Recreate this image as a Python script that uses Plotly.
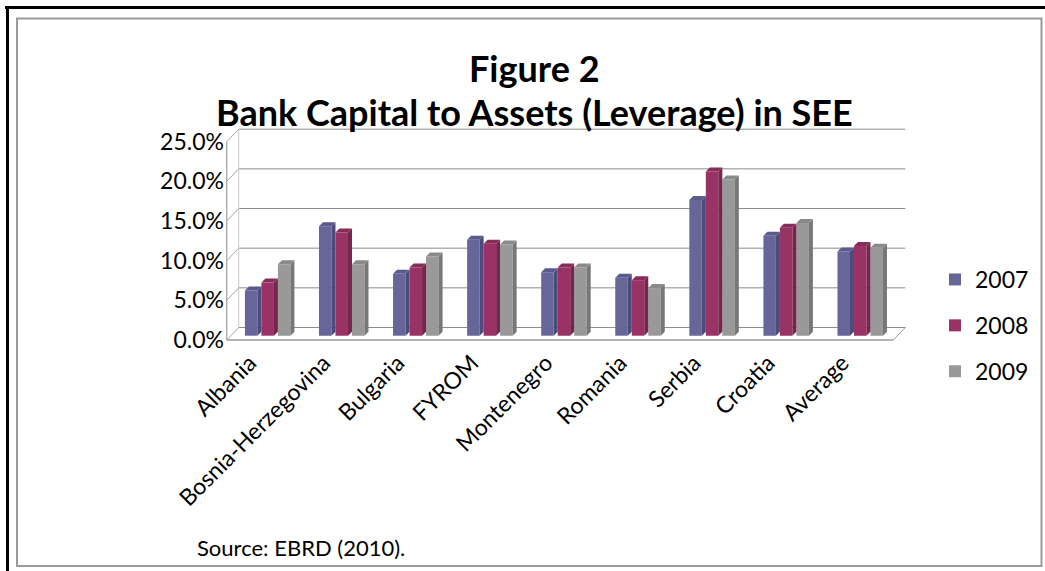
import plotly.graph_objects as go

categories = ["Albania", "Bosnia-Herzegovina", "Bulgaria", "FYROM", "Montenegro",
              "Romania", "Serbia", "Croatia", "Average"]
series_names = ["2007", "2008", "2009"]
v2007 = [5.7, 13.8, 7.8, 12.1, 8.0, 7.3, 17.1, 12.6, 10.6]
v2008 = [6.7, 13.0, 8.6, 11.6, 8.6, 7.0, 20.7, 13.6, 11.3]
v2009 = [9.0, 9.0, 10.0, 11.5, 8.6, 6.0, 19.7, 14.2, 11.1]
y_ticks = [0, 0.05, 0.10, 0.15, 0.20, 0.25]

front_colors = ["#666699", "#993366", "#999999"]
side_colors = ["#4c4c7a", "#74264d", "#777777"]
top_colors = ["#5a5a8c", "#862d59", "#8a8a8a"]

W, H = 1045, 571
FONT = "Lato, 'Open Sans', sans-serif"

# pixel geometry of the pseudo-3D plot box
X0PX, PXU = 226.7, 74.07     # pixel of x=0 (front), px per category
Y0PX, PYU = 340.0, 793.2     # pixel of y=0 (front), px per unit (1.0 = 100%)
L_PX, R_PX, T_PX, B_PX = 225, 908, 127, 341
xr = [(L_PX - X0PX) / PXU, (R_PX - X0PX) / PXU]
yr = [(Y0PX - B_PX) / PYU, (Y0PX - T_PX) / PYU]

DX, DY = 12 / PXU, 12.5 / PYU          # wall depth
bw = 12.5 / PXU                         # bar front width
sdx, sdy = 4 / PXU, 4 / PYU             # bar side/top depth
pitch = 16.5 / PXU
base = 4.3 / PYU
group_w = 2 * pitch + bw + sdx

fig = go.Figure()

values = [v2007, v2008, v2009]
for k, (name, vals) in enumerate(zip(series_names, values)):
    xs = []
    for i in range(len(categories)):
        c = i + 0.58
        left = c - group_w / 2 + k * pitch
        xs.append(left + bw / 2)
    ys = [v / 100 for v in vals]
    fig.add_trace(go.Bar(
        x=xs, y=ys, base=base, width=bw, name=name,
        marker=dict(color=front_colors[k], line=dict(width=0)),
        legendgroup=name, hoverinfo="skip"))
    sx, sy, tx, ty = [], [], [], []
    for x, v in zip(xs, ys):
        x0 = x - bw / 2
        x1 = x + bw / 2
        y0 = base
        y1 = base + v
        sx += [x1, x1 + sdx, x1 + sdx, x1, x1, None]
        sy += [y0, y0 + sdy, y1 + sdy, y1, y0, None]
        tx += [x0, x1, x1 + sdx, x0 + sdx, x0, None]
        ty += [y1, y1, y1 + sdy, y1 + sdy, y1, None]
    fig.add_trace(go.Scatter(x=sx, y=sy, fill="toself", mode="lines",
                             line=dict(width=0), fillcolor=side_colors[k],
                             showlegend=False, hoverinfo="skip"))
    fig.add_trace(go.Scatter(x=tx, y=ty, fill="toself", mode="lines",
                             line=dict(width=0), fillcolor=top_colors[k],
                             showlegend=False, hoverinfo="skip"))

grid_col = "#8c8c8c"
n = len(categories)
shapes = []
for t in y_ticks:
    shapes.append(dict(type="line", xref="x", yref="y", x0=DX, x1=n + DX,
                       y0=t + DY, y1=t + DY, line=dict(color=grid_col, width=1), layer="below"))
    shapes.append(dict(type="line", xref="x", yref="y", x0=0, x1=DX,
                       y0=t, y1=t + DY, line=dict(color="#a6a6a6", width=1), layer="below"))
shapes.append(dict(type="line", xref="x", yref="y", x0=0, x1=0, y0=0, y1=y_ticks[-1],
                   line=dict(color="#b0b0b0", width=1.5), layer="below"))
shapes.append(dict(type="line", xref="x", yref="y", x0=DX, x1=DX, y0=DY, y1=y_ticks[-1] + DY,
                   line=dict(color="#c8c8c8", width=1), layer="below"))
shapes.append(dict(type="line", xref="x", yref="y", x0=0, x1=n, y0=0, y1=0,
                   line=dict(color="#9a9a9a", width=1.5), layer="below"))
shapes.append(dict(type="line", xref="x", yref="y", x0=n, x1=n + DX, y0=0, y1=DY,
                   line=dict(color="#9a9a9a", width=1), layer="below"))

pw, ph = R_PX - L_PX, B_PX - T_PX
def px(x):
    return (x - L_PX) / pw
def py(y):
    return (B_PX - y) / ph

shapes.append(dict(type="line", xref="paper", yref="paper", x0=px(5), x1=px(1045),
                   y0=py(7.5), y1=py(7.5), line=dict(color="black", width=3)))
shapes.append(dict(type="line", xref="paper", yref="paper", x0=px(7.5), x1=px(7.5),
                   y0=py(6), y1=py(571), line=dict(color="black", width=3)))
shapes.append(dict(type="rect", xref="paper", yref="paper", x0=px(17), x1=px(1041.5),
                   y0=py(18.5), y1=py(566), line=dict(color="#9a9a9a", width=2)))

fig.update_layout(
    width=W, height=H,
    margin=dict(l=L_PX, r=W - R_PX, t=T_PX, b=H - B_PX, autoexpand=False),
    paper_bgcolor="white", plot_bgcolor="rgba(0,0,0,0)",
    barmode="overlay", showlegend=True,
    font=dict(family=FONT, color="black"),
    xaxis=dict(range=xr, tickmode="array", tickvals=[i + 0.5 for i in range(n)],
               ticktext=categories, tickangle=-45, tickfont=dict(size=23),
               ticklabelshift=-14, ticklabelstandoff=3,
               showgrid=False, zeroline=False, showline=False, ticks=""),
    yaxis=dict(range=yr, tickmode="array", tickvals=y_ticks,
               ticktext=[f"{t*100:.1f}%" for t in y_ticks], tickfont=dict(size=23),
               showgrid=False, zeroline=False, showline=False, ticks=""),
    legend=dict(xref="container", yref="container", x=935 / W, y=1 - 258 / H,
                xanchor="left", yanchor="top", font=dict(size=23),
                tracegroupgap=13, bgcolor="rgba(0,0,0,0)"),
    shapes=shapes,
    annotations=[
        dict(xref="paper", yref="paper", x=px(534), y=py(68), text="<b>Figure 2</b>",
             showarrow=False, font=dict(size=36), xanchor="center", yanchor="middle"),
        dict(xref="paper", yref="paper", x=px(534), y=py(112),
             text="<b>Bank Capital to Assets (Leverage) in SEE</b>",
             showarrow=False, font=dict(size=36), xanchor="center", yanchor="middle"),
        dict(xref="paper", yref="paper", x=px(195), y=py(547), text="Source: EBRD (2010).",
             showarrow=False, font=dict(size=22), xanchor="left", yanchor="middle"),
    ],
)

fig.write_html("out.html")
